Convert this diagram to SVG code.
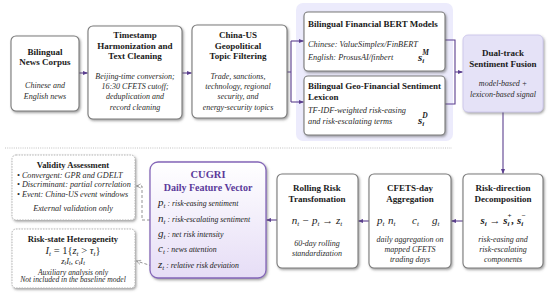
<svg xmlns="http://www.w3.org/2000/svg" width="550" height="293" viewBox="0 0 550 293">
<defs>
<style>
text{font-family:"Liberation Serif","Times New Roman",serif;fill:#1a1a1a}
.t{font-weight:bold;font-size:9px;text-anchor:middle}
.i{font-style:italic;font-size:8px;text-anchor:middle;fill:#2a2a2a}
.il{font-style:italic;font-size:8.3px;fill:#2a2a2a}
.s{font-style:italic;font-size:8.2px;fill:#2a2a2a}
.m{font-style:italic;font-size:11px;fill:#1a1a1a}
.box{fill:#fff;stroke:#7a7a7a;stroke-width:1.1}
.dbox{fill:#fff;stroke:#aaa;stroke-width:0.9;stroke-dasharray:1.5 1.2}
.c{fill:none;stroke:#5b3f8f;stroke-width:1.1}
.dc{fill:none;stroke:#888;stroke-width:0.9;stroke-dasharray:3 2}
</style>
<filter id="sh" x="-10%" y="-10%" width="125%" height="125%">
<feDropShadow dx="1.2" dy="1.5" stdDeviation="0.8" flood-color="#555" flood-opacity="0.55"/>
</filter>
<marker id="ar" viewBox="0 0 10 10" refX="9" refY="5" markerWidth="5" markerHeight="5" orient="auto">
<path d="M0,1 L10,5 L0,9 z" fill="#5b3f8f"/>
</marker>
<marker id="oa" viewBox="0 0 10 10" refX="9" refY="5" markerWidth="6" markerHeight="6" orient="auto">
<path d="M1,1 L9,5 L1,9" fill="none" stroke="#888" stroke-width="1.2"/>
</marker>
<linearGradient id="cg" x1="0" y1="0" x2="0" y2="1">
<stop offset="0" stop-color="#ffffff"/>
<stop offset="1" stop-color="#e6ddf6"/>
</linearGradient>
</defs>
<rect width="550" height="293" fill="#fff"/>

<g id="panel">
<rect x="296" y="3" width="157" height="138" rx="7" fill="#ecebfc"/>
</g>

<g id="connectors">
<path class="c" d="M79,73 H87.5" marker-end="url(#ar)"/>
<path class="c" d="M182,73 H191.5" marker-end="url(#ar)"/>
<path class="c" d="M287,72 H291 M291,41 V102"/>
<path class="c" d="M291,41 H303.5" marker-end="url(#ar)"/>
<path class="c" d="M291,102 H303.5" marker-end="url(#ar)"/>
<path class="c" d="M445,40 H455 V104 H445"/>
<path class="c" d="M455,72 H462.5" marker-end="url(#ar)"/>
<path class="c" d="M503,112 V173.5" marker-end="url(#ar)"/>
<path class="c" d="M463,221 H451.5" marker-end="url(#ar)"/>
<path class="c" d="M369,221 H358.5" marker-end="url(#ar)"/>
<path class="c" d="M277,220 H266.5" marker-end="url(#ar)"/>
<path class="dc" d="M150,220 H142 V186 H136.5" marker-end="url(#oa)"/>
<path class="dc" d="M152,266 L136.5,261" marker-end="url(#oa)"/>
<path d="M5,148 H452" stroke="#bbb" stroke-width="0.9" stroke-dasharray="1 1.2" fill="none"/>
</g>

<g id="corpus">
<rect class="box" x="11" y="36" width="68" height="75" rx="5" filter="url(#sh)"/>
<text class="t" x="45" y="55">Bilingual</text>
<text class="t" x="45" y="65">News Corpus</text>
<text class="i" x="45" y="88">Chinese and</text>
<text class="i" x="45" y="99">English news</text>
</g>

<g id="timestamp">
<rect class="box" x="88" y="26" width="94" height="93" rx="5" filter="url(#sh)"/>
<text class="t" x="135" y="38">Timestamp</text>
<text class="t" x="135" y="48.5">Harmonization and</text>
<text class="t" x="135" y="59">Text Cleaning</text>
<text class="i" x="135" y="79">Beijing-time conversion;</text>
<text class="i" x="135" y="89">16:30 CFETS cutoff;</text>
<text class="i" x="135" y="99">deduplication and</text>
<text class="i" x="135" y="109.5">record cleaning</text>
</g>

<g id="topic">
<rect class="box" x="192" y="25" width="95" height="93" rx="5" filter="url(#sh)"/>
<text class="t" x="238" y="38">China-US</text>
<text class="t" x="238" y="48.5">Geopolitical</text>
<text class="t" x="238" y="59">Topic Filtering</text>
<text class="i" x="238" y="79">Trade, sanctions,</text>
<text class="i" x="238" y="89">technology, regional</text>
<text class="i" x="238" y="99">security, and</text>
<text class="i" x="238" y="110">energy-security topics</text>
</g>

<g id="bert">
<rect class="box" x="304" y="12" width="141" height="59" rx="4" filter="url(#sh)"/>
<text class="t" x="308" y="27" style="text-anchor:start">Bilingual Financial BERT Models</text>
<text class="il" x="308" y="47">Chinese: ValueSimplex/FinBERT</text>
<text class="il" x="308" y="60">English: ProsusAI/finbert</text>
<text class="m" x="418" y="61" font-weight="bold">s<tspan font-size="7" dy="2">i</tspan><tspan font-size="7.5" dx="-2" dy="-8.5">M</tspan></text>
</g>

<g id="lexicon">
<rect class="box" x="304" y="76" width="141" height="59" rx="4" filter="url(#sh)"/>
<text class="t" x="308" y="89" style="text-anchor:start">Bilingual Geo-Financial Sentiment</text>
<text class="t" x="308" y="100" style="text-anchor:start">Lexicon</text>
<text class="il" x="308" y="113">TF-IDF-weighted risk-easing</text>
<text class="il" x="308" y="124">and risk-escalating terms</text>
<text class="m" x="418" y="124" font-weight="bold">s<tspan font-size="7" dy="2">i</tspan><tspan font-size="7.5" dx="-2" dy="-8.5">D</tspan></text>
</g>

<g id="fusion">
<rect x="463" y="35" width="80" height="77" rx="5" fill="#e5e2f7" stroke="#c9c3ea" stroke-width="0.8" filter="url(#sh)"/>
<text class="t" x="503" y="56">Dual-track</text>
<text class="t" x="503" y="67">Sentiment Fusion</text>
<text class="i" x="503" y="86">model-based +</text>
<text class="i" x="503" y="97">lexicon-based signal</text>
</g>

<g id="decomp">
<rect class="box" x="463" y="174" width="80" height="94" rx="5" filter="url(#sh)"/>
<text class="t" x="503" y="191">Risk-direction</text>
<text class="t" x="503" y="202">Decomposition</text>
<text class="m" x="503" y="224" text-anchor="middle" font-weight="bold">s<tspan font-size="7" dy="2">i</tspan><tspan dy="-2"> → s</tspan><tspan font-size="7" dy="2">i</tspan><tspan font-size="7" dx="-2" dy="-8">+</tspan><tspan dy="6">, s</tspan><tspan font-size="7" dy="2">i</tspan><tspan font-size="7" dx="-2" dy="-8">−</tspan></text>
<text class="i" x="503" y="242">risk-easing and</text>
<text class="i" x="503" y="252">risk-escalating</text>
<text class="i" x="503" y="262">components</text>
</g>

<g id="cfets">
<rect class="box" x="369" y="174" width="82" height="94" rx="5" filter="url(#sh)"/>
<text class="t" x="410" y="191">CFETS-day</text>
<text class="t" x="410" y="202">Aggregation</text>
<text class="m" x="377" y="224">p<tspan font-size="7" dy="2">t</tspan></text>
<text class="m" x="388" y="224">n<tspan font-size="7" dy="2">t</tspan></text>
<text class="m" x="412" y="224">c<tspan font-size="7" dy="2">t</tspan></text>
<text class="m" x="432" y="224">g<tspan font-size="7" dy="2">t</tspan></text>
<text class="i" x="410" y="242">daily aggregation on</text>
<text class="i" x="410" y="252">mapped CFETS</text>
<text class="i" x="410" y="262">trading days</text>
</g>

<g id="rolling">
<rect class="box" x="277" y="174" width="81" height="94" rx="5" filter="url(#sh)"/>
<text class="t" x="317" y="191">Rolling Risk</text>
<text class="t" x="317" y="202">Transfomation</text>
<text class="m" x="317" y="224" text-anchor="middle">n<tspan font-size="7" dy="2">t</tspan><tspan dy="-2"> − p</tspan><tspan font-size="7" dy="2">t</tspan><tspan dy="-2"> → z</tspan><tspan font-size="7" dy="2">t</tspan></text>
<text class="i" x="317" y="246">60-day rolling</text>
<text class="i" x="317" y="256">standardization</text>
</g>

<g id="cugri">
<rect x="150" y="162" width="116" height="116" rx="8" fill="url(#cg)" stroke="#8466b8" stroke-width="1.3" filter="url(#sh)"/>
<text x="208" y="178" text-anchor="middle" font-weight="bold" font-size="10.5" style="fill:#5b3a9a">CUGRI</text>
<text x="208" y="191" text-anchor="middle" font-weight="bold" font-size="10" style="fill:#5b3a9a">Daily Feature Vector</text>
<text class="m" x="158" y="206">p<tspan font-size="7" dy="2">t</tspan><tspan font-size="7.8" dy="-2"> : risk-easing sentiment</tspan></text>
<text class="m" x="158" y="222">n<tspan font-size="7" dy="2">t</tspan><tspan font-size="7.8" dy="-2"> : risk-escalating sentiment</tspan></text>
<text class="m" x="158" y="237">g<tspan font-size="7" dy="2">t</tspan><tspan font-size="7.8" dy="-2"> : net risk intensity</tspan></text>
<text class="m" x="158" y="252">c<tspan font-size="7" dy="2">t</tspan><tspan font-size="7.8" dy="-2"> : news attention</tspan></text>
<text class="m" x="158" y="268">z<tspan font-size="7" dy="2">t</tspan><tspan font-size="7.8" dy="-2"> : relative risk deviation</tspan></text>
</g>

<g id="validity">
<rect class="dbox" x="12" y="155" width="123" height="65" rx="4" filter="url(#sh)"/>
<text class="t" x="73" y="167.5" style="font-size:8.6px">Validity Assessment</text>
<text class="s" x="17" y="177.5">• Convergent: GPR and GDELT</text>
<text class="s" x="17" y="187">• Discriminant: partial correlation</text>
<text class="s" x="17" y="196.5">• Event: China-US event windows</text>
<text class="s" x="73" y="211" text-anchor="middle">External validation only</text>
</g>

<g id="heterogeneity">
<rect class="dbox" x="12" y="229" width="123" height="59" rx="4" filter="url(#sh)"/>
<text class="t" x="73" y="241.5" style="font-size:8.6px">Risk-state Heterogeneity</text>
<text x="73" y="254" text-anchor="middle" font-size="10.5" font-style="italic">I<tspan font-size="7" dy="1.5">t</tspan><tspan dy="-1.5" font-style="normal"> = 1{</tspan>z<tspan font-size="7" dy="1.5">t</tspan><tspan dy="-1.5" font-style="normal"> &gt; </tspan>τ<tspan font-size="7" dy="1.5">t</tspan><tspan dy="-1.5" font-style="normal">}</tspan></text>
<text x="73" y="264" text-anchor="middle" font-size="8.5" font-style="italic">z<tspan font-size="6" dy="1.2">t</tspan><tspan dy="-1.2">I</tspan><tspan font-size="6" dy="1.2">t</tspan><tspan dy="-1.2" font-style="normal">, </tspan>c<tspan font-size="6" dy="1.2">t</tspan><tspan dy="-1.2">I</tspan><tspan font-size="6" dy="1.2">t</tspan></text>
<text class="s" x="73" y="274.5" text-anchor="middle" style="font-size:7.6px">Auxiliary analysis only</text>
<text class="s" x="73" y="282" text-anchor="middle" style="font-size:7.6px">Not included in the baseline model</text>
</g>
</svg>
